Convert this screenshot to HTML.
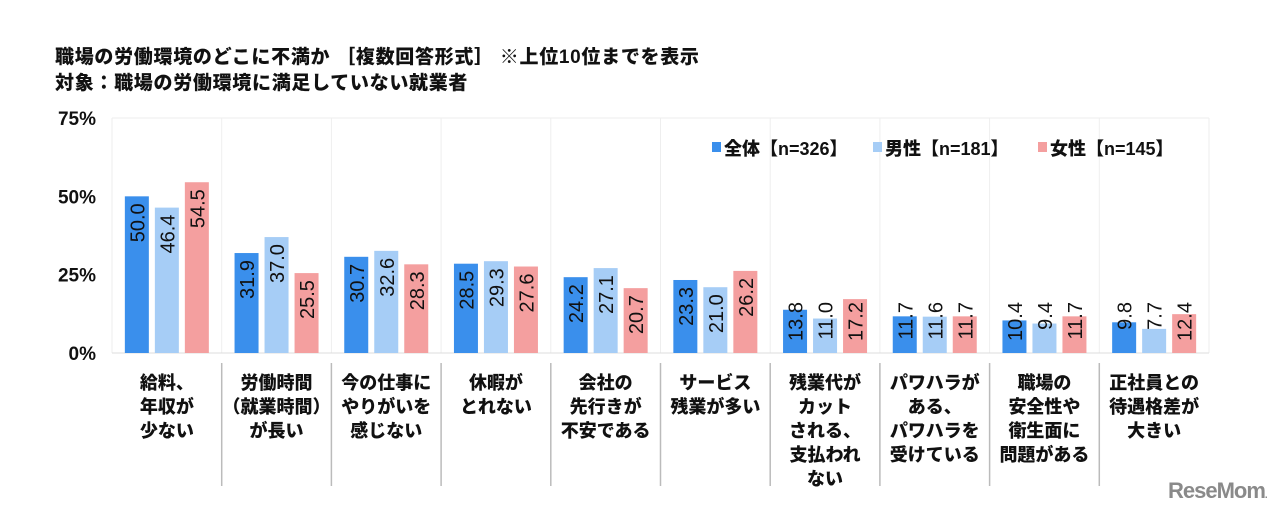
<!DOCTYPE html>
<html><head><meta charset="utf-8">
<style>
body{margin:0;background:#fff;width:1280px;height:515px;overflow:hidden;font-family:"Liberation Sans","Noto Sans CJK JP",sans-serif;}
.t{position:absolute;left:55px;font-weight:900;font-size:19px;color:#111;white-space:nowrap;letter-spacing:0.7px}
svg{position:absolute;left:0;top:0}
</style></head><body>
<div class="t" style="top:42px">職場の労働環境のどこに不満か ［複数回答形式］ ※上位10位までを表示</div>
<div class="t" style="top:68px">対象：職場の労働環境に満足していない就業者</div>
<svg id="c" width="1280" height="515"></svg>
<div style="position:absolute;left:1168px;top:478px;font-size:22px;font-weight:bold;color:#8a8a8a;letter-spacing:-1px">ReseMom<span style="font-size:10px">.</span></div>
<script>
const categories=[["給料、","年収が","少ない"],["労働時間","（就業時間）","が長い"],["今の仕事に","やりがいを","感じない"],["休暇が","とれない"],["会社の","先行きが","不安である"],["サービス","残業が多い"],["残業代が","カット","される、","支払われ","ない"],["パワハラが","ある、","パワハラを","受けている"],["職場の","安全性や","衛生面に","問題がある"],["正社員との","待遇格差が","大きい"]];
const seriesAll=[50.0,31.9,30.7,28.5,24.2,23.3,13.8,11.7,10.4,9.8];
const seriesMale=[46.4,37.0,32.6,29.3,27.1,21.0,11.0,11.6,9.4,7.7];
const seriesFemale=[54.5,25.5,28.3,27.6,20.7,26.2,17.2,11.7,11.7,12.4];
const yTicks=[0,25,50,75];
const seriesNames=["全体【n=326】","男性【n=181】","女性【n=145】"];
const colors=["#3a8fec","#a6cdf6","#f49f9f"];
const svg=document.getElementById('c');const NS='http://www.w3.org/2000/svg';
const x0=112,x1=1209,base=353,top75=118;
const cw=(x1-x0)/categories.length;
const y=v=>base-(v/75)*(base-top75);
function mk(t,a){const e=document.createElementNS(NS,t);for(const k in a)e.setAttribute(k,a[k]);svg.appendChild(e);return e;}
for(let i=0;i<=categories.length;i++){const g=mk('line',{x1:x0+i*cw,x2:x0+i*cw,y1:top75,y2:base,stroke:'#eeeeee'});
}
const tl=mk('line',{x1:x0,x2:x1,y1:top75,y2:top75,stroke:'#eeeeee'});

const ax=mk('line',{x1:x0,x2:x1,y1:base,y2:base,stroke:'#dddddd'});

yTicks.forEach(v=>{const t=mk('text',{x:96,y:y(v)+7,'text-anchor':'end','font-size':'19','font-weight':'bold','fill':'#111'});t.textContent=v+'%';
});
const data=[seriesAll,seriesMale,seriesFemale];const bw=24,off=[-30,0,30];
categories.forEach((c,i)=>{const cx=x0+cw*i+cw/2;
 data.forEach((s,k)=>{const v=s[i];const bx=cx+off[k]-bw/2;
  const r=mk('rect',{x:bx,y:y(v),width:bw,height:base-y(v),fill:colors[k]});
  
  const len=44;const topT=Math.min(y(v)+7,base-7-len);
  const t=mk('text',{x:0,y:0,'font-size':'20','fill':'#111','transform':`translate(${cx+off[k]+7.5},${topT}) rotate(-90)`,'text-anchor':'end'});
  t.textContent=v.toFixed(1);
  
 });
 if(i>0){const sl=mk('line',{x1:x0+cw*i,x2:x0+cw*i,y1:363,y2:486,stroke:'#bbbbbb','stroke-width':1.5});
  }
 c.forEach((ln,j)=>{const t=mk('text',{x:cx,y:389+j*24,'text-anchor':'middle','font-size':'18','font-weight':'900','fill':'#111'});t.textContent=ln;
  });
});
const lx=[712,873,1038];
seriesNames.forEach((n,k)=>{const r=mk('rect',{x:lx[k],y:142,width:9,height:10,fill:colors[k]});
 
 const t=mk('text',{x:lx[k]+12,y:155,'font-size':'18','font-weight':'900','fill':'#111'});t.textContent=n;
 });
</script>
</body></html>
